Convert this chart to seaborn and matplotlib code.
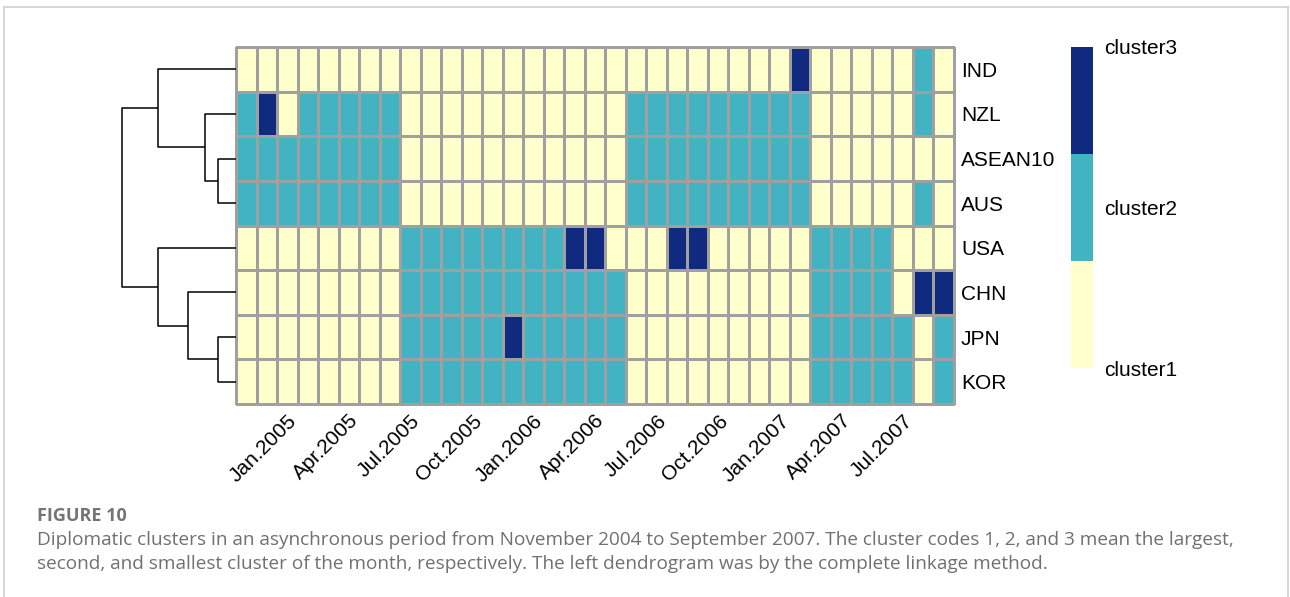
import numpy as np
import pandas as pd
import seaborn as sns
import matplotlib.pyplot as plt
from matplotlib.colors import ListedColormap
from matplotlib.lines import Line2D

# cluster code per month (1 = largest, 2 = second, 3 = smallest), Nov.2004 - Sep.2007
countries = ["IND", "NZL", "ASEAN10", "AUS", "USA", "CHN", "JPN", "KOR"]
IND     = [1,1,1,1,1,1,1,1,1,1, 1,1,1,1,1,1,1,1,1,1, 1,1,1,1,1,1,1,3,1,1, 1,1,1,2,1]
NZL     = [2,3,1,2,2,2,2,2,1,1, 1,1,1,1,1,1,1,1,1,2, 2,2,2,2,2,2,2,2,1,1, 1,1,1,2,1]
ASEAN10 = [2,2,2,2,2,2,2,2,1,1, 1,1,1,1,1,1,1,1,1,2, 2,2,2,2,2,2,2,2,1,1, 1,1,1,1,1]
AUS     = [2,2,2,2,2,2,2,2,1,1, 1,1,1,1,1,1,1,1,1,2, 2,2,2,2,2,2,2,2,1,1, 1,1,1,2,1]
USA     = [1,1,1,1,1,1,1,1,2,2, 2,2,2,2,2,2,3,3,1,1, 1,3,3,1,1,1,1,1,2,2, 2,2,1,1,1]
CHN     = [1,1,1,1,1,1,1,1,2,2, 2,2,2,2,2,2,2,2,2,1, 1,1,1,1,1,1,1,1,2,2, 2,2,1,3,3]
JPN     = [1,1,1,1,1,1,1,1,2,2, 2,2,2,3,2,2,2,2,2,1, 1,1,1,1,1,1,1,1,2,2, 2,2,2,1,2]
KOR     = [1,1,1,1,1,1,1,1,2,2, 2,2,2,2,2,2,2,2,2,1, 1,1,1,1,1,1,1,1,2,2, 2,2,2,1,2]

months = pd.date_range("2004-11-01", "2007-09-01", freq="MS")
month_labels = [m.strftime("%b.%Y") for m in months]
cluster_names = ["cluster1", "cluster2", "cluster3"]
cluster_colors = ["#FFFFCC", "#42B3C2", "#102A80"]

df = pd.DataFrame([IND, NZL, ASEAN10, AUS, USA, CHN, JPN, KOR],
                  index=countries, columns=month_labels)


def complete_linkage(X):
    # simple complete-linkage clustering on euclidean distances
    D = np.sqrt(((X[:, None, :] - X[None, :, :]) ** 2).sum(-1))
    clusters = {i: ([i], i + 0.5, 0.0) for i in range(len(X))}
    merges = []
    nxt = len(X)
    while len(clusters) > 1:
        keys = list(clusters)
        best = None
        for a in range(len(keys)):
            for b in range(a + 1, len(keys)):
                ma, mb = clusters[keys[a]][0], clusters[keys[b]][0]
                d = D[np.ix_(ma, mb)].max()
                if best is None or d < best[0]:
                    best = (d, keys[a], keys[b])
        d, ka, kb = best
        A, B = clusters.pop(ka), clusters.pop(kb)
        merges.append((A[1], A[2], B[1], B[2], d))
        clusters[nxt] = (A[0] + B[0], (A[1] + B[1]) / 2, d)
        nxt += 1
    return merges


W, H = 1290, 597
fig = plt.figure(figsize=(W / 100, H / 100), dpi=100)
plt.rcParams["font.family"] = ["Liberation Sans", "DejaVu Sans"]

hm_l, hm_r, hm_t, hm_b = 236, 954, 47, 404
ax_heat = fig.add_axes([hm_l / W, 1 - hm_b / H, (hm_r - hm_l) / W, (hm_b - hm_t) / H])
dend_w = 116
ax_dend = fig.add_axes([(hm_l - dend_w) / W, 1 - hm_b / H, dend_w / W, (hm_b - hm_t) / H])
ax_cbar = fig.add_axes([1071 / W, 1 - 368 / H, 22 / W, (368 - 47) / H])

sns.heatmap(df, ax=ax_heat, cmap=ListedColormap(cluster_colors), vmin=1, vmax=3,
            linewidths=0.85, linecolor="#A0A0A0", cbar_ax=ax_cbar,
            cbar_kws={"ticks": [1, 2, 3]})
ax_heat.collections[0].set_clip_on(False)

ax_heat.yaxis.tick_right()
ax_heat.set_yticklabels(countries, rotation=0, fontsize=15)
tick_idx = [i for i, m in enumerate(months) if m.month in (1, 4, 7, 10)]
ax_heat.set_xticks([i + 0.5 for i in tick_idx])
ax_heat.set_xticklabels([month_labels[i] for i in tick_idx], rotation=45, ha="right",
                        rotation_mode="anchor", fontsize=15)
ax_heat.tick_params(length=0, pad=5)
ax_heat.set_xlabel("")
ax_heat.set_ylabel("")

cbar = ax_heat.collections[0].colorbar
cbar.set_ticklabels(cluster_names)
cbar.outline.set_visible(False)
ax_cbar.tick_params(length=0, labelsize=15, pad=8)

# dendrogram
for ya, ha, yb, hb, h in complete_linkage(df.values.astype(float)):
    ax_dend.plot([ha, h, h, hb], [ya, ya, yb, yb], color="black", lw=1.1,
                 solid_capstyle="butt", clip_on=False)
ax_dend.set_xlim(dend_w / 18, 0)
ax_dend.set_ylim(len(countries), 0)
ax_dend.axis("off")

# outer frame
for xs, ys in [([4, 4], [597, 7]), ([4, 1288], [7, 7]), ([1288, 1288], [7, 597])]:
    fig.add_artist(Line2D([x / W for x in xs], [1 - y / H for y in ys],
                          color="#CFCFCF", lw=1.2))

cap_font = ["Open Sans", "DejaVu Sans"]
fig.text(37 / W, 1 - 516 / H, "FIGURE 10", family=cap_font, weight="bold",
         fontsize=13, color="#747474", va="center")
fig.text(37 / W, 1 - 540 / H,
         "Diplomatic clusters in an asynchronous period from November 2004 to September 2007. "
         "The cluster codes 1, 2, and 3 mean the largest,",
         family=cap_font, fontsize=13.7, color="#707070", va="center")
fig.text(37 / W, 1 - 564 / H,
         "second, and smallest cluster of the month, respectively. "
         "The left dendrogram was by the complete linkage method.",
         family=cap_font, fontsize=13.7, color="#707070", va="center")

fig.savefig("out.png", dpi=100)
